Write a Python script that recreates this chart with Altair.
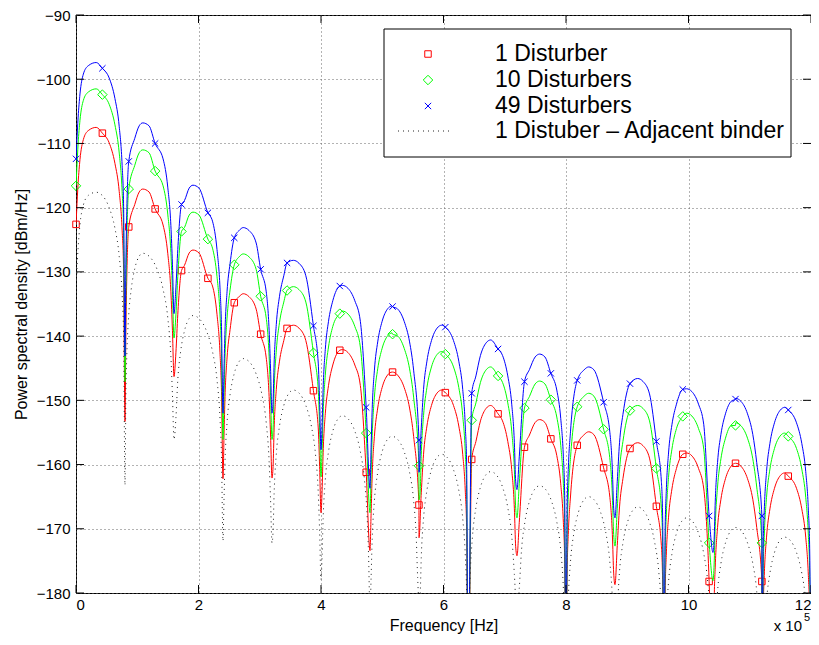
import altair as alt
import pandas as pd

# ---------------- values ----------------
x_ticks = [0, 200000, 400000, 600000, 800000, 1000000, 1200000]
y_ticks = [-180, -170, -160, -150, -140, -130, -120, -110, -100, -90]

null_freqs = [80000, 160000, 240000, 320000, 400000, 480000, 560000, 640000,
              720000, 800000, 880000, 960000, 1040000, 1120000, 1200000]
peak_freqs = [33000, 109000, 191000, 273000, 355000, 435000, 516000, 597000,
              677000, 757000, 837000, 917000, 997000, 1077000, 1157000]
start_freqs = [0, 1100, 3500, 6500, 12000, 20000]
marker_freqs = [0, 43070, 86140, 129210, 172280, 215350, 258420, 301490, 344560,
                387630, 430700, 473770, 516840, 559910, 602980, 646050, 689120,
                732190, 775260, 818330, 861400, 904470, 947540, 990610, 1033680,
                1076750, 1119820, 1162890]

# dB below a lobe's peak, at fractions of the way from a null to that peak
lobe_fraction = [0.05, 0.1, 0.2, 0.35, 0.55, 0.8]
lobe_drop_db = [22.0, 16.0, 10.0, 5.6, 2.4, 0.45]

# 1 Disturber (red)
red_start = [-122.6, -120.5, -116.1, -112.5, -109.4, -108.0]
red_peaks = [-107.5, -117.1, -126.6, -133.4, -138.3, -142.1, -145.6, -148.4,
             -150.8, -153.0, -154.9, -156.6, -158.2, -159.8, -161.3]
red_nulls = [-153.3, -146.3, -162.2, -162.1, -167.5, -173.4, -171.4, -200,
             -174.2, -200, -178.7, -200, -200, -200, -200]
red_markers = [-122.6, -108.4, -123.0, -120.2, -129.8, -131.0, -134.8, -139.7,
               -138.8, -148.5, -142.2, -161.2, -145.6, -166.3, -148.8, -159.2,
               -152.1, -157.3, -156.0, -157.0, -160.5, -157.5, -166.5, -158.4,
               -178.2, -159.8, -178.2, -161.8]

# 10 Disturbers (green)
green_start = [-116.6, -114.4, -110.0, -106.4, -103.3, -102.0]
green_peaks = [-101.5, -111.0, -120.7, -127.2, -132.3, -136.1, -139.5, -142.4,
               -144.8, -147.0, -148.9, -150.8, -152.0, -153.5, -155.1]
green_nulls = [-147.1, -140.3, -156.1, -156.1, -161.9, -167.5, -165.5, -200,
               -168.3, -200, -172.7, -200, -178.1, -200, -200]
green_markers = [-116.6, -102.4, -117.1, -114.3, -123.7, -124.9, -128.9, -133.8,
                 -132.9, -142.6, -136.5, -155.1, -139.7, -160.2, -142.8, -153.1,
                 -146.2, -151.2, -149.9, -151.0, -154.5, -151.6, -160.6, -152.5,
                 -172.2, -153.9, -172.2, -155.6]

# 49 Disturbers (blue)
blue_start = [-112.4, -110.2, -105.9, -102.3, -99.2, -97.9]
blue_peaks = [-97.4, -106.8, -116.5, -123.1, -128.2, -132.1, -135.3, -138.3,
              -140.6, -142.8, -144.8, -146.6, -148.2, -149.7, -151.1]
blue_nulls = [-143.1, -136.5, -152.0, -152.0, -157.7, -163.7, -161.2, -200,
              -163.9, -200, -168.3, -200, -173.7, -200, -200]
blue_markers = [-112.4, -98.3, -112.8, -110.0, -119.5, -120.8, -124.7, -129.6,
                -128.6, -138.4, -132.2, -151.1, -135.4, -156.2, -138.6, -148.9,
                -142.0, -147.1, -145.8, -146.9, -150.3, -147.4, -156.4, -148.3,
                -168.0, -149.8, -168.0, -151.5]

# 1 Distuber - Adjacent binder (black dotted)
black_start = [-132.7, -130.4, -126.2, -122.6, -119.6, -118.1]
black_peaks = [-117.6, -127.1, -136.8, -143.5, -148.4, -152.4, -155.6, -158.4,
               -161.1, -163.3, -165.0, -166.6, -168.3, -169.8, -171.3]
black_nulls = [-163.2, -156.1, -171.9, -172.2, -177.9, -183.5, -181.5, -200,
               -184.0, -200, -189.0, -200, -200, -200, -200]

legend_labels = ["1 Disturber", "10 Disturbers", "49 Disturbers",
                 "1 Distuber \u2013 Adjacent binder"]


# ---------------- build tables ----------------
def line_rows(start_y, peaks, nulls, marks):
    pts = list(zip(start_freqs, start_y))
    mk = [] if marks is None else [(f, v) for f, v in zip(marker_freqs, marks) if f > 0]
    for i in range(len(peak_freqs)):
        hi = null_freqs[i]
        pf, pv = peak_freqs[i], peaks[i]
        pts.append((pf, pv))
        sides = [(hi, nulls[i])]
        if i > 0:
            sides.append((null_freqs[i - 1], nulls[i - 1]))
        for edge, depth in sides:
            span = pf - edge
            ts = [(f - edge) / span for f, _ in mk if 0 < (f - edge) / span < 1]
            for t, d in zip(lobe_fraction, lobe_drop_db):
                v = pv - d
                if v > depth + 1 and all(abs(t - m) > 0.15 for m in ts):
                    pts.append((edge + t * span, v))
        pts.append((hi, nulls[i]))
    pts += mk
    pts.sort()
    return pd.DataFrame(pts, columns=["f", "db"])


def marker_rows(marks):
    return pd.DataFrame({"f": marker_freqs, "db": marks})


FONT = "Liberation Sans"
W, H = 735, 578

xscale = alt.Scale(domain=[0, 1200000], nice=False, zero=False)
yscale = alt.Scale(domain=[-180, -90], nice=False, zero=False)
xaxis = alt.Axis(values=x_ticks, labelExpr="'' + (datum.value / 100000)",
                 grid=True, gridDash=[1, 3], gridColor="#666666", gridOpacity=1,
                 ticks=False, domain=False, labelFontSize=15, labelFont=FONT,
                 labelColor="black", labelPadding=4, title="Frequency [Hz]",
                 titleFont=FONT, titleFontSize=16, titleFontWeight="normal",
                 titleColor="black", titlePadding=5)
yaxis = alt.Axis(values=y_ticks, grid=True, gridDash=[1, 3], gridColor="#666666",
                 gridOpacity=1, ticks=False, domain=False, labelFontSize=15,
                 labelFont=FONT, labelColor="black", labelPadding=6,
                 title="Power spectral density [dBm/Hz]", titleFont=FONT,
                 titleFontSize=16, titleFontWeight="normal", titleColor="black",
                 titlePadding=7)
X = alt.X("f:Q", scale=xscale, axis=xaxis)
Y = alt.Y("db:Q", scale=yscale, axis=yaxis)

layers = []

series = [
    ("#ff0000", red_start, red_peaks, red_nulls, red_markers, "square", 42),
    ("#00ff00", green_start, green_peaks, green_nulls, green_markers, "diamond", 90),
    ("#0000ff", blue_start, blue_peaks, blue_nulls, blue_markers,
     "M-1,-1L1,1M-1,1L1,-1", 40),
]
for color, st, pk, nl, mk, shape, size in series:
    layers.append(alt.Chart(line_rows(st, pk, nl, mk)).mark_line(
        color=color, strokeWidth=1, clip=True, interpolate="monotone").encode(x=X, y=Y))
    layers.append(alt.Chart(marker_rows(mk)).mark_point(
        shape=shape, size=size, filled=False, color=color, strokeWidth=1,
        opacity=1).encode(x=X, y=Y))

layers.append(alt.Chart(line_rows(black_start, black_peaks, black_nulls, None)).mark_line(
    color="#222222", strokeWidth=1, strokeDash=[1, 4], clip=True,
    interpolate="monotone").encode(x=X, y=Y))

# inner ticks (MATLAB style)
xt = pd.DataFrame({"f": x_ticks})
yt = pd.DataFrame({"db": y_ticks})
layers.append(alt.Chart(xt).mark_rule(color="black", strokeWidth=1).encode(
    x=X, y=alt.value(H), y2=alt.value(H - 8)))
layers.append(alt.Chart(xt).mark_rule(color="black", strokeWidth=1).encode(
    x=X, y=alt.value(0), y2=alt.value(8)))
layers.append(alt.Chart(yt).mark_rule(color="black", strokeWidth=1).encode(
    y=Y, x=alt.value(0), x2=alt.value(8)))
layers.append(alt.Chart(yt).mark_rule(color="black", strokeWidth=1).encode(
    y=Y, x=alt.value(W), x2=alt.value(W - 8)))

# legend box
one = pd.DataFrame({"k": [0]})
layers.append(alt.Chart(one).mark_rect(fill="white", stroke="black", strokeWidth=1).encode(
    x=alt.value(308), x2=alt.value(715), y=alt.value(14), y2=alt.value(142)))
row_y = [39, 65, 91, 116]
leg_sym = [("#ff0000", "square", 42), ("#00ff00", "diamond", 90),
           ("#0000ff", "M-1,-1L1,1M-1,1L1,-1", 40)]
for (color, shape, size), ry in zip(leg_sym, row_y[:3]):
    layers.append(alt.Chart(one).mark_point(shape=shape, size=size, filled=False,
                                            color=color, strokeWidth=1, opacity=1).encode(
        x=alt.value(352), y=alt.value(ry)))
layers.append(alt.Chart(one).mark_rule(color="#222222", strokeWidth=1, strokeDash=[1, 4]).encode(
    x=alt.value(322), x2=alt.value(376), y=alt.value(row_y[3])))
for lab, ry in zip(legend_labels, row_y):
    layers.append(alt.Chart(one).mark_text(text=lab, align="left", baseline="middle",
                                           font=FONT, fontSize=23, color="black").encode(
        x=alt.value(419), y=alt.value(ry)))

# x 10^5 multiplier
layers.append(alt.Chart(one).mark_text(text="x 10", align="right", baseline="alphabetic",
                                       font=FONT, fontSize=15, color="black").encode(
    x=alt.value(726), y=alt.value(616)))
layers.append(alt.Chart(one).mark_text(text="5", align="left", baseline="alphabetic",
                                       font=FONT, fontSize=11, color="black").encode(
    x=alt.value(728), y=alt.value(606)))

chart = alt.layer(*layers).properties(
    width=W, height=H, autosize=alt.AutoSizeParams(type="none"),
    padding={"left": 68, "top": 7, "right": 0, "bottom": 44},
    background="white",
).configure_view(stroke="black", strokeWidth=1)

chart.save("out.html", embed_options={"renderer": "svg", "actions": False})
